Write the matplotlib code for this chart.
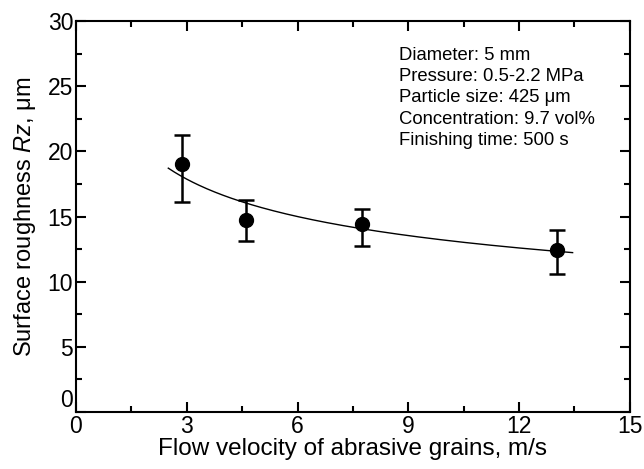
import numpy as np
import matplotlib
matplotlib.use("Agg")
import matplotlib.pyplot as plt
from matplotlib.ticker import MultipleLocator

plt.rcParams['font.family'] = ['Liberation Sans', 'DejaVu Sans']
plt.rcParams['mathtext.fontset'] = 'custom'
plt.rcParams['mathtext.rm'] = 'Liberation Sans'
plt.rcParams['mathtext.it'] = 'Liberation Sans:italic'

# measured data
velocity = [2.88, 4.60, 7.74, 13.02]
roughness = [19.0, 14.7, 14.45, 12.45]
err_upper = [21.26, 16.27, 15.58, 13.97]
err_lower = [16.14, 13.15, 12.76, 10.59]

conditions = ["Diameter: 5 mm",
              "Pressure: 0.5-2.2 MPa",
              "Particle size: 425 μm",
              "Concentration: 9.7 vol%",
              "Finishing time: 500 s"]

# power-law fit through the points
b, ln_a = np.polyfit(np.log(velocity), np.log(roughness), 1)
xf = np.linspace(2.5, 13.45, 200)
yf = np.exp(ln_a) * xf ** b

fig = plt.figure(figsize=(6.44, 4.69), dpi=100)
ax = fig.add_axes([0.118, 0.1215, 0.86, 0.8335])

y = np.array(roughness)
yerr = [y - np.array(err_lower), np.array(err_upper) - y]
ax.errorbar(velocity, roughness, yerr=yerr, fmt='o', color='black', ms=10,
            elinewidth=1.8, capsize=5.5, capthick=1.8, zorder=3)
ax.plot(xf, yf, color='black', lw=1.0)

ax.set_xlim(0, 15)
ax.set_ylim(0, 30)
ax.xaxis.set_major_locator(MultipleLocator(3))
ax.xaxis.set_minor_locator(MultipleLocator(1.5))
ax.yaxis.set_major_locator(MultipleLocator(5))
ax.yaxis.set_minor_locator(MultipleLocator(2.5))
ax.tick_params(which='both', direction='in', top=True, right=True, width=1.5,
               labelsize=16.5, pad=2)
ax.tick_params(which='major', length=7)
ax.tick_params(which='minor', length=4)
for s in ax.spines.values():
    s.set_linewidth(1.5)

ax.set_xlabel("Flow velocity of abrasive grains, m/s", fontsize=17.5, labelpad=0)
ax.set_ylabel("Surface roughness $Rz$, μm", fontsize=17, labelpad=7)

ax.text(0.584, 0.934, "\n".join(conditions), transform=ax.transAxes,
        fontsize=13.3, va='top', ha='left', linespacing=1.33)

# lift the y "0" so it does not sit on the x "0"
fig.canvas.draw()
for t in ax.yaxis.get_major_ticks():
    if abs(t.get_loc()) < 1e-9:
        t.label1.set_verticalalignment('bottom')

fig.savefig("out.png", dpi=100)
